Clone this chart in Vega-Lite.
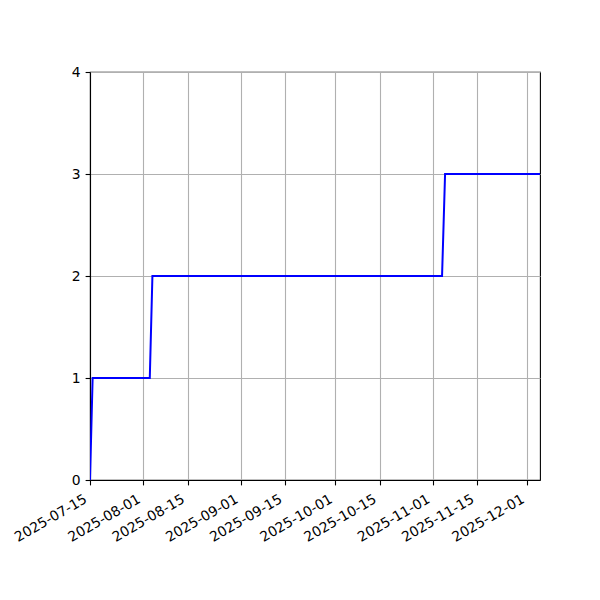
{
  "$schema": "https://vega.github.io/schema/vega-lite/v6.json",
  "width": 450,
  "height": 408,
  "autosize": "none",
  "padding": {"left": 90, "top": 72, "right": 60, "bottom": 120},
  "background": "white",
  "config": {
    "font": "DejaVu Sans",
    "view": {"stroke": "black", "strokeWidth": 1.1},
    "axis": {
      "labelFont": "DejaVu Sans",
      "labelFontSize": 13.9,
      "labelColor": "black",
      "tickColor": "black",
      "tickSize": 4.9,
      "tickWidth": 1.1,
      "domainColor": "black",
      "domainWidth": 1.1,
      "gridColor": "#b0b0b0",
      "gridWidth": 1.1,
      "labelPadding": 4.9,
      "title": null
    }
  },
  "data": {
    "values": [
      {"date": "2025-07-15T00:00:00", "count": 0},
      {"date": "2025-07-15T20:00:00", "count": 1},
      {"date": "2025-08-03T00:00:00", "count": 1},
      {"date": "2025-08-03T20:00:00", "count": 2},
      {"date": "2025-11-03T21:00:00", "count": 2},
      {"date": "2025-11-04T20:00:00", "count": 3},
      {"date": "2025-12-05T00:00:00", "count": 3}
    ]
  },
  "mark": {"type": "line", "color": "#0000ff", "strokeWidth": 2, "clip": true},
  "encoding": {
    "x": {
      "field": "date",
      "type": "temporal",
      "scale": {
        "domain": [
          {"year": 2025, "month": 7, "date": 15},
          {"year": 2025, "month": 12, "date": 5}
        ],
        "nice": false
      },
      "axis": {
        "values": [
          {"year": 2025, "month": 7, "date": 15},
          {"year": 2025, "month": 8, "date": 1},
          {"year": 2025, "month": 8, "date": 15},
          {"year": 2025, "month": 9, "date": 1},
          {"year": 2025, "month": 9, "date": 15},
          {"year": 2025, "month": 10, "date": 1},
          {"year": 2025, "month": 10, "date": 15},
          {"year": 2025, "month": 11, "date": 1},
          {"year": 2025, "month": 11, "date": 15},
          {"year": 2025, "month": 12, "date": 1}
        ],
        "format": "%Y-%m-%d",
        "labelAngle": -30,
        "labelAlign": "right",
        "labelBaseline": "top",
        "labelOffset": -8,
        "labelPadding": 7,
        "labelOverlap": false,
        "labelBound": false,
        "labelFlush": false
      }
    },
    "y": {
      "field": "count",
      "type": "quantitative",
      "scale": {"domain": [0, 4], "nice": false},
      "axis": {"values": [0, 1, 2, 3, 4], "labelBound": false, "labelFlush": false}
    }
  }
}
